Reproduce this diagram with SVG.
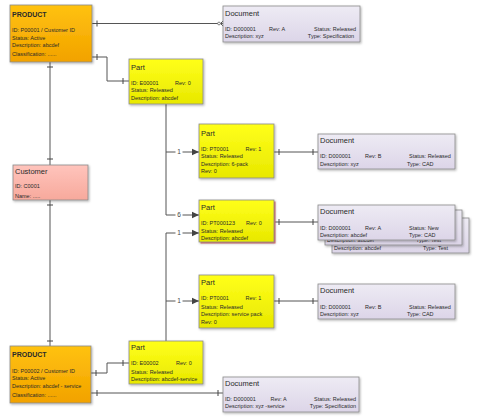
<svg xmlns="http://www.w3.org/2000/svg" width="480" height="418" viewBox="0 0 480 418">
<defs>
<linearGradient id="gProd" x1="0" y1="0" x2="0" y2="1"><stop offset="0" stop-color="#FFC20E"/><stop offset="1" stop-color="#F2A200"/></linearGradient>
<linearGradient id="gPart" x1="0" y1="0" x2="0" y2="1"><stop offset="0" stop-color="#FFFF1A"/><stop offset="1" stop-color="#E8E800"/></linearGradient>
<linearGradient id="gCust" x1="0" y1="0" x2="0" y2="1"><stop offset="0" stop-color="#FFC4BC"/><stop offset="1" stop-color="#F7A99C"/></linearGradient>
<linearGradient id="gDoc" x1="0" y1="0" x2="0" y2="1"><stop offset="0" stop-color="#EEEBF4"/><stop offset="1" stop-color="#DCD5E8"/></linearGradient>
<filter id="sh" x="-10%" y="-10%" width="125%" height="130%"><feDropShadow dx="1" dy="1.2" stdDeviation="0.8" flood-color="#000" flood-opacity="0.3"/></filter>
<marker id="arr" markerUnits="userSpaceOnUse" markerWidth="8" markerHeight="8" refX="7" refY="4" orient="auto"><path d="M0,0.8 L7,4 L0,7.2 Z" fill="#444"/></marker>
</defs>
<style>
.n{stroke:#8a8a8a;stroke-width:0.8;filter:url(#sh)}
.prod{fill:url(#gProd)}
.part{fill:url(#gPart)}
.cust{fill:url(#gCust)}
.doc{fill:url(#gDoc)}
text{font-family:"Liberation Sans",Arial,sans-serif;fill:#2a2a2a}
.t{font-size:7.5px}
.tb{font-size:7px;font-weight:bold}
.b{font-size:5.5px}
.c{fill:none;stroke:#555;stroke-width:1}
.k{stroke:#444;stroke-width:1}
.lbl{font-size:6.5px;text-anchor:middle;fill:#444}
.e{text-anchor:end}
</style>

<g id="connectors">
<path class="c" d="M92,23.5 H218"/>
<line class="k" x1="97" y1="20.5" x2="97" y2="26.5"/>
<path class="c" d="M220.5,23.5 L223,21 M220.5,23.5 L223,26 M220.5,23.5 H223"/>
<circle cx="219" cy="23.5" r="1.4" fill="#fff" stroke="#555" stroke-width="0.7"/>

<path class="c" d="M92,57 H107 V81 H129"/>
<line class="k" x1="97" y1="54" x2="97" y2="60"/>
<line class="k" x1="123" y1="78" x2="123" y2="84"/>

<path class="c" d="M50,62 V165"/>
<line class="k" x1="47" y1="67" x2="53" y2="67"/>
<line class="k" x1="47" y1="159" x2="53" y2="159"/>

<path class="c" d="M50,200 V346"/>
<line class="k" x1="47" y1="205" x2="53" y2="205"/>
<line class="k" x1="47" y1="341" x2="53" y2="341"/>

<path class="c" d="M91,373 H107 V363 H129"/>
<line class="k" x1="96" y1="370" x2="96" y2="376"/>
<line class="k" x1="123" y1="360" x2="123" y2="366"/>

<path class="c" d="M91,393 H223"/>
<line class="k" x1="97" y1="390" x2="97" y2="396"/>
<line class="k" x1="218" y1="390" x2="218" y2="396"/>

<path class="c" d="M166,104 V215 H199" marker-end="url(#arr)"/>
<path class="c" d="M166,152 H199" marker-end="url(#arr)"/>
<path class="c" d="M166,341 V233 H199" marker-end="url(#arr)"/>
<path class="c" d="M166,301 H199" marker-end="url(#arr)"/>
<rect x="175.5" y="148" width="7" height="8" fill="#fff"/>
<text class="lbl" x="179" y="154.3">1</text>
<rect x="175.5" y="211" width="7" height="8" fill="#fff"/>
<text class="lbl" x="179" y="217.3">6</text>
<rect x="175.5" y="229" width="7" height="8" fill="#fff"/>
<text class="lbl" x="179" y="235.3">1</text>
<rect x="175.5" y="297" width="7" height="8" fill="#fff"/>
<text class="lbl" x="179" y="303.3">1</text>

<path class="c" d="M274,152 H318"/>
<line class="k" x1="279" y1="149" x2="279" y2="155"/>
<line class="k" x1="313" y1="149" x2="313" y2="155"/>
<path class="c" d="M274,222 H318"/>
<line class="k" x1="279" y1="219" x2="279" y2="225"/>
<line class="k" x1="313" y1="219" x2="313" y2="225"/>
<path class="c" d="M274,301 H318"/>
<line class="k" x1="279" y1="298" x2="279" y2="304"/>
<line class="k" x1="313" y1="298" x2="313" y2="304"/>
</g>

<g id="product1">
<rect class="n prod" x="10" y="5" width="82" height="57"/>
<text class="tb" x="12" y="16.5">PRODUCT</text>
<text class="b" x="12" y="32">ID: P00001 / Customer ID</text>
<text class="b" x="12" y="39.5">Status: Active</text>
<text class="b" x="12" y="47">Description: abcdef</text>
<text class="b" x="12" y="56">Classification: ......</text>
</g>

<g id="doc1">
<rect class="n doc" x="223" y="6" width="137" height="36"/>
<text class="t" x="225" y="16">Document</text>
<text class="b" x="225" y="30.5">ID: D000001</text>
<text class="b" x="269" y="30.5">Rev: A</text>
<text class="b e" x="356" y="30.5">Status: Released</text>
<text class="b" x="225" y="38.2">Description: xyz</text>
<text class="b e" x="354" y="38.2">Type: Specification</text>
</g>

<g id="partE00001">
<rect class="n part" x="129" y="59" width="74" height="45"/>
<text class="t" x="131" y="69.5">Part</text>
<text class="b" x="131" y="84.5">ID: E00001</text>
<text class="b" x="175" y="84.5">Rev: 0</text>
<text class="b" x="131" y="92.2">Status: Released</text>
<text class="b" x="131" y="100">Description: abcdef</text>
</g>

<g id="customer">
<rect class="n cust" x="13" y="165" width="75" height="35"/>
<text class="t" x="15" y="173.5">Customer</text>
<text class="b" x="15" y="188">ID: C0001</text>
<text class="b" x="15" y="197.5">Name: .....</text>
</g>

<g id="partPT0001a">
<rect class="n part" x="199" y="124" width="75" height="54"/>
<text class="t" x="201" y="135.7">Part</text>
<text class="b" x="201" y="151">ID: PT0001</text>
<text class="b" x="245.5" y="151">Rev: 1</text>
<text class="b" x="201" y="158.2">Status: Released</text>
<text class="b" x="201" y="165.7">Description: 6-pack</text>
<text class="b" x="201" y="173.2">Rev: 0</text>
</g>

<g id="docCAD1">
<rect class="n doc" x="318" y="134" width="137" height="35"/>
<text class="t" x="320" y="142.8">Document</text>
<text class="b" x="320" y="158">ID: D000001</text>
<text class="b" x="365" y="158">Rev: B</text>
<text class="b" x="409" y="158">Status: Released</text>
<text class="b" x="320" y="165.6">Description: xyz</text>
<text class="b" x="407" y="165.6">Type: CAD</text>
</g>

<g id="partPT000123">
<rect x="200.5" y="201.5" width="75" height="42" fill="#F07A7A"/>
<rect class="n part" x="199" y="200" width="75" height="42"/>
<text class="t" x="201" y="209.5">Part</text>
<text class="b" x="201" y="225">ID: PT000123</text>
<text class="b" x="246" y="225">Rev: 0</text>
<text class="b" x="201" y="232.5">Status: Released</text>
<text class="b" x="201" y="240">Description: abcdef</text>
</g>

<g id="docStack">
<rect class="n doc" x="332" y="218" width="137" height="35"/>
<text class="b" x="334" y="250">Description: abcdef</text>
<text class="b" x="423" y="250">Type: Test</text>
<rect class="n doc" x="325" y="210" width="137" height="35"/>
<text class="b" x="327" y="242.4">Description: abcdef</text>
<text class="b" x="416" y="242.4">Type: Test</text>
<rect class="n doc" x="318" y="205" width="137" height="35"/>
<text class="t" x="320" y="213.5">Document</text>
<text class="b" x="320" y="229.5">ID: D000001</text>
<text class="b" x="365" y="229.5">Rev: A</text>
<text class="b" x="409" y="229.5">Status: New</text>
<text class="b" x="320" y="236.6">Description: abcdef</text>
<text class="b" x="409" y="236.6">Type: CAD</text>
</g>

<g id="partPT0001b">
<rect class="n part" x="199" y="275" width="75" height="53"/>
<text class="t" x="201" y="285">Part</text>
<text class="b" x="201" y="300.3">ID: PT0001</text>
<text class="b" x="245.5" y="300.3">Rev: 1</text>
<text class="b" x="201" y="308.5">Status: Released</text>
<text class="b" x="201" y="316">Description: service pack</text>
<text class="b" x="201" y="323.5">Rev: 0</text>
</g>

<g id="docCAD2">
<rect class="n doc" x="318" y="284" width="137" height="35"/>
<text class="t" x="320" y="292.8">Document</text>
<text class="b" x="320" y="308.5">ID: D000001</text>
<text class="b" x="365" y="308.5">Rev: B</text>
<text class="b" x="409" y="308.5">Status: Released</text>
<text class="b" x="320" y="316">Description: xyz</text>
<text class="b" x="407" y="316">Type: CAD</text>
</g>

<g id="partE00002">
<rect class="n part" x="129" y="341" width="74" height="43"/>
<text class="t" x="131" y="350">Part</text>
<text class="b" x="131" y="365">ID: E00002</text>
<text class="b" x="176" y="365">Rev: 0</text>
<text class="b" x="131" y="373.5">Status: Released</text>
<text class="b" x="131" y="381">Description: abcdef-service</text>
</g>

<g id="product2">
<rect class="n prod" x="10" y="346" width="81" height="57"/>
<text class="tb" x="12" y="357">PRODUCT</text>
<text class="b" x="12" y="372.5">ID: P00002 / Customer ID</text>
<text class="b" x="12" y="380">Status: Active</text>
<text class="b" x="12" y="388">Description: abcdef - service</text>
<text class="b" x="12" y="397">Classification: ......</text>
</g>

<g id="doc2">
<rect class="n doc" x="223" y="377" width="136" height="35"/>
<text class="t" x="225" y="385.8">Document</text>
<text class="b" x="225" y="401">ID: D000001</text>
<text class="b" x="270.5" y="401">Rev: A</text>
<text class="b e" x="356" y="401">Status: Released</text>
<text class="b" x="225" y="408.3">Description: xyz -service</text>
<text class="b e" x="356" y="408.3">Type: Specification</text>
</g>
</svg>
